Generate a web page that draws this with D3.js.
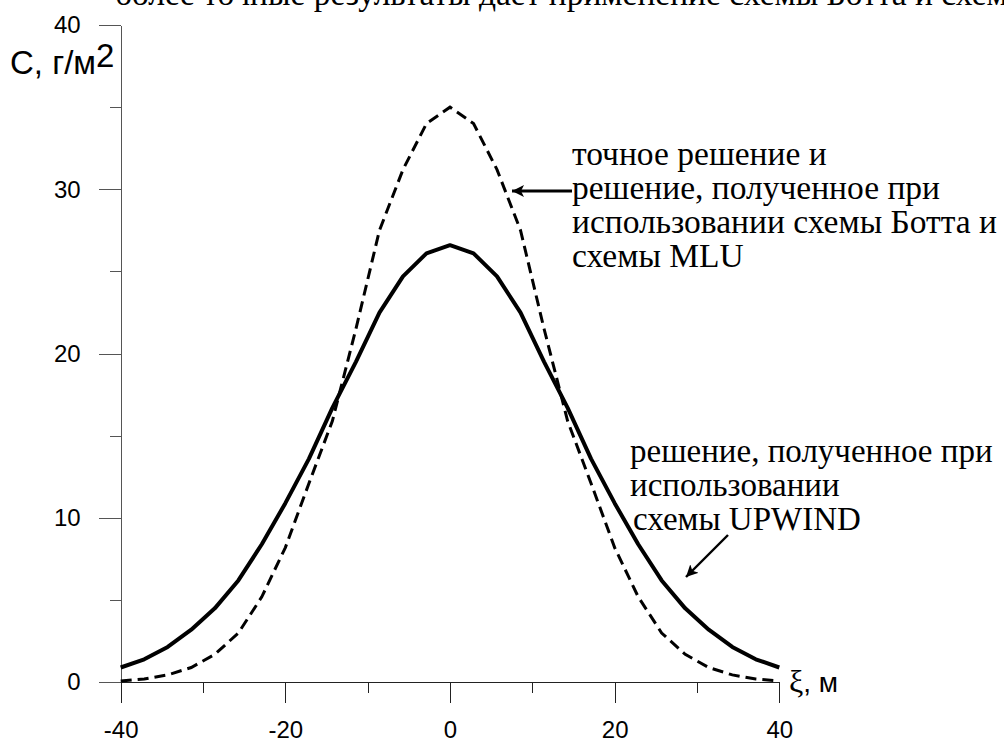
<!DOCTYPE html>
<html>
<head>
<meta charset="utf-8">
<script src="https://cdn.jsdelivr.net/npm/d3@7"></script>
<style>
	body { margin: 0; background: #fff; }
	svg { display: block; }
	.sans { font-family: "Liberation Sans", Arial, sans-serif; }
	.serif { font-family: "Liberation Serif", "Times New Roman", serif; }
</style>
</head>
<body>
<svg id="chart" width="1004" height="742"></svg>
<script>
// concentration profiles C(xi): UPWIND scheme vs exact / Bott / MLU

var xi = [-40, -37.14, -34.29, -31.43, -28.57, -25.71, -22.86, -20, -17.14, -14.29,
	-11.43, -8.57, -5.71, -2.86, 0, 2.86, 5.71, 8.57, 11.43, 14.29,
	17.14, 20, 22.86, 25.71, 28.57, 31.43, 34.29, 37.14, 40];

var upwind = [0.9, 1.4, 2.15, 3.2, 4.5, 6.2, 8.4, 10.9, 13.6, 16.7,
	19.5, 22.5, 24.7, 26.1, 26.6, 26.1, 24.7, 22.5, 19.5, 16.7,
	13.6, 10.9, 8.4, 6.2, 4.5, 3.2, 2.15, 1.4, 0.9];

var exact = [0.08, 0.2, 0.45, 0.9, 1.7, 3.0, 5.2, 8.2, 12.1, 15.9,
	21.5, 27.5, 31.2, 34.0, 35.0, 34.0, 31.2, 27.5, 21.5, 15.9,
	12.1, 8.2, 5.2, 3.0, 1.7, 0.9, 0.45, 0.2, 0.08];

var xMajor = [-40, -20, 0, 20, 40];
var xMinor = [-30, -10, 10, 30];
var yMajor = [0, 10, 20, 30, 40];
var yMinor = [5, 15, 25, 35];

var note1 = ["точное решение и", "решение, полученное при",
	"использовании схемы Ботта и", "схемы MLU"];
var note2 = ["решение, полученное при", "использовании", "схемы UPWIND"];
var topLine = "более точные результаты дает применение схемы Ботта и схемы MLU";

var svg = d3.select("#chart");

var x = d3.scaleLinear() // xi, m
	.domain([-40, 40])
	.range([120.7, 779.3]);
var y = d3.scaleLinear() // C, g/m2
	.domain([0, 40])
	.range([682.3, 25]);

var plain = function(d) { return String(d); }; // "-40" with a hyphen, as in the figure

// arrow head
svg.append("defs").append("marker")
	.attr("id", "head")
	.attr("viewBox", "0 0 12 12")
	.attr("refX", 12)
	.attr("refY", 6)
	.attr("markerWidth", 12)
	.attr("markerHeight", 12)
	.attr("markerUnits", "userSpaceOnUse")
	.attr("orient", "auto")
	.append("path")
	.attr("d", "M0,0L12,6L0,12L3,6Z")
	.attr("fill", "#000");

// cut-off line of the page text above the figure (cut in the original too)
svg.append("text")
	.attr("class", "serif")
	.attr("x", 115)
	.attr("y", 5)
	.attr("font-size", 33.5)
	.text(topLine);

var drawAxes = function() {
	var yAxis = d3.axisLeft(y).tickValues(yMajor).tickSize(22).tickSizeOuter(0)
		.tickPadding(18).tickFormat(plain);
	var gy = svg.append("g")
		.attr("class", "sans")
		.attr("transform", "translate(" + x(-40) + ",0)")
		.call(yAxis);
	gy.selectAll("line, path").attr("stroke", "#555").attr("shape-rendering", "crispEdges");
	gy.selectAll("text").attr("font-size", 24).attr("fill", "#000")
		.attr("font-family", null);

	var yAxisMinor = d3.axisLeft(y).tickValues(yMinor).tickSize(11).tickFormat("");
	var gym = svg.append("g")
		.attr("transform", "translate(" + x(-40) + ",0)")
		.call(yAxisMinor);
	gym.select(".domain").remove();
	gym.selectAll("line").attr("stroke", "#555").attr("shape-rendering", "crispEdges");

	var xAxis = d3.axisBottom(x).tickValues(xMajor).tickSize(21).tickSizeOuter(0)
		.tickPadding(18).tickFormat(plain);
	var gx = svg.append("g")
		.attr("class", "sans")
		.attr("transform", "translate(0," + y(0) + ")")
		.call(xAxis);
	gx.selectAll("line, path").attr("stroke", "#222").attr("shape-rendering", "crispEdges");
	gx.selectAll("text").attr("font-size", 24).attr("fill", "#000")
		.attr("font-family", null);

	var xAxisMinor = d3.axisBottom(x).tickValues(xMinor).tickSize(11).tickFormat("");
	var gxm = svg.append("g")
		.attr("transform", "translate(0," + y(0) + ")")
		.call(xAxisMinor);
	gxm.select(".domain").remove();
	gxm.selectAll("line").attr("stroke", "#222").attr("shape-rendering", "crispEdges");

	// y-axis title
	var yt = svg.append("text")
		.attr("class", "sans")
		.attr("x", 10)
		.attr("y", 74)
		.attr("font-size", 33);
	yt.append("tspan").text("С, г/м");
	yt.append("tspan").attr("dy", -7).text("2");

	// x-axis title
	var xt = svg.append("text")
		.attr("class", "sans")
		.attr("x", 789)
		.attr("y", 692)
		.attr("font-size", 28);
	xt.append("tspan").attr("class", "serif").attr("font-size", 32).text("ξ");
	xt.append("tspan").text(", м");
}

var drawCurves = function() {
	var line = d3.line()
		.x(function(d) { return x(d.x); })
		.y(function(d) { return y(d.y); });

	var pts = function(vals) {
		return xi.map(function(v, i) { return { x: v, y: vals[i] }; });
	};

	svg.append("path")
		.datum(pts(exact))
		.attr("d", line)
		.attr("fill", "none")
		.attr("stroke", "#000")
		.attr("stroke-width", 3)
		.attr("stroke-dasharray", "11,6");

	svg.append("path")
		.datum(pts(upwind))
		.attr("d", line)
		.attr("fill", "none")
		.attr("stroke", "#000")
		.attr("stroke-width", 4)
		.attr("stroke-linejoin", "round");
}

var drawNotes = function() {
	var t1 = svg.append("text")
		.attr("class", "serif")
		.attr("font-size", 33.5);
	t1.selectAll("tspan").data(note1).enter().append("tspan")
		.attr("x", 572)
		.attr("y", function(d, i) { return 165 + i * 34; })
		.text(function(d) { return d; });

	var t2 = svg.append("text")
		.attr("class", "serif")
		.attr("font-size", 33);
	t2.selectAll("tspan").data(note2).enter().append("tspan")
		.attr("x", function(d, i) { return i == 2 ? 633 : 630; })
		.attr("y", function(d, i) { return 462 + i * 34; })
		.text(function(d) { return d; });

	svg.append("line")
		.attr("x1", 572).attr("y1", 191)
		.attr("x2", 512).attr("y2", 191)
		.attr("stroke", "#000")
		.attr("stroke-width", 2.8)
		.attr("marker-end", "url(#head)");

	svg.append("line")
		.attr("x1", 728).attr("y1", 535)
		.attr("x2", 686).attr("y2", 577)
		.attr("stroke", "#000")
		.attr("stroke-width", 2.4)
		.attr("marker-end", "url(#head)");
}

drawAxes();
drawCurves();
drawNotes();
</script>
</body>
</html>
